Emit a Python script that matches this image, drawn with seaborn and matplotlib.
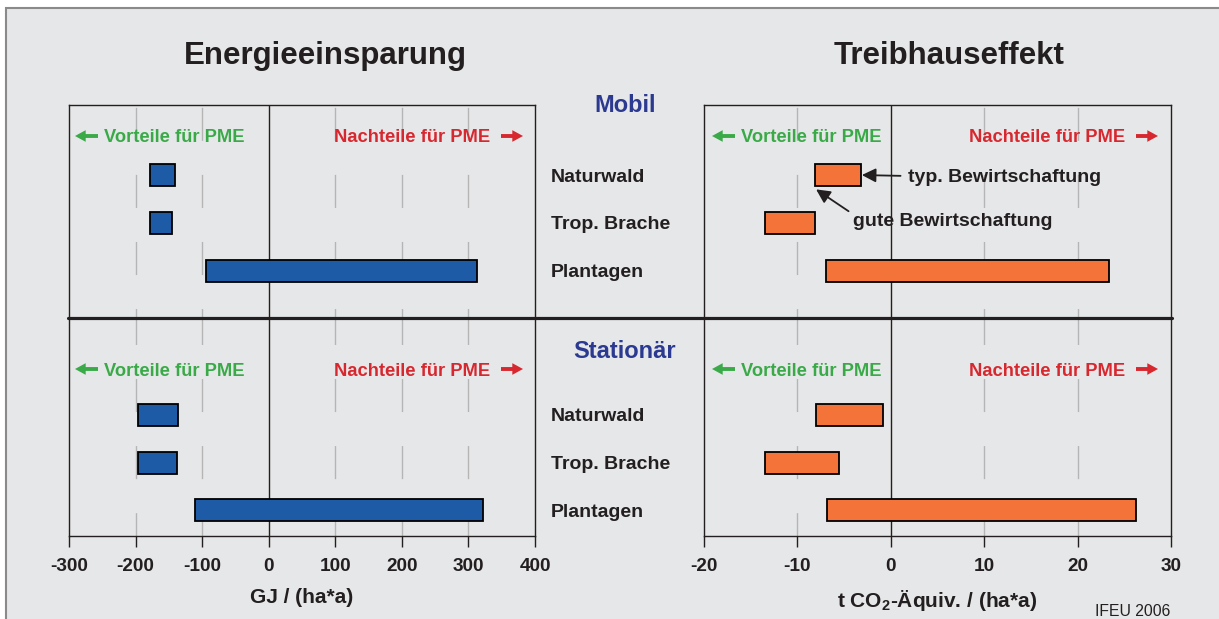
import pandas as pd
import matplotlib
matplotlib.use("Agg")
import matplotlib.pyplot as plt
import matplotlib.transforms as mtransforms
from matplotlib.patches import Rectangle, FancyArrowPatch
from matplotlib.lines import Line2D
import seaborn as sns

categories = ["Naturwald", "Trop. Brache", "Plantagen"]

# Energieeinsparung, GJ / (ha*a): start and end of each bar
energy_mobil_start = [-179, -178, -94]
energy_mobil_end = [-141, -145, 313]
energy_stat_start = [-196, -196, -111]
energy_stat_end = [-137, -138, 322]

# Treibhauseffekt, t CO2-Äquiv. / (ha*a)
ghg_mobil_start = [-8.1, -13.5, -6.9]
ghg_mobil_end = [-3.2, -8.1, 23.4]
ghg_stat_start = [-8.0, -13.5, -6.8]
ghg_stat_end = [-0.8, -5.5, 26.2]

energy_ticks = [-300, -200, -100, 0, 100, 200, 300, 400]
ghg_ticks = [-20, -10, 0, 10, 20, 30]

W, H = 1219, 619
BG = "#e6e7e8"
DARK = "#231f20"
GREEN = "#3aaa48"
RED = "#d7282f"
NAVY = "#2b3990"
BLUE = "#1d5ba6"
ORANGE = "#f47338"

sns.set_theme(style="white", rc={"axes.facecolor": BG, "figure.facecolor": "white"})
plt.rcParams["font.family"] = ["Liberation Sans", "DejaVu Sans"]
plt.rcParams["axes.unicode_minus"] = False
plt.rcParams["mathtext.fontset"] = "custom"
plt.rcParams["mathtext.rm"] = "Liberation Sans"
plt.rcParams["mathtext.bf"] = "Liberation Sans:bold"


def fx(px):
    return px / W


def fy(py):
    return 1 - py / H


fig = plt.figure(figsize=(W / 100, H / 100), dpi=100)
fig.patches.append(Rectangle((fx(6), -0.1), 2, fy(8) + 0.1, transform=fig.transFigure,
                             facecolor=BG, edgecolor="#8a8a8a", linewidth=1.5, zorder=-10))

ax_et = fig.add_axes([fx(69), fy(318), 466 / W, 213 / H])
ax_eb = fig.add_axes([fx(69), fy(536), 466 / W, 218 / H])
ax_gt = fig.add_axes([fx(704), fy(318), 467 / W, 213 / H])
ax_gb = fig.add_axes([fx(704), fy(536), 467 / W, 218 / H])


def draw_panel(ax, start, end, color, ticks, grid, ylim, top):
    df = pd.DataFrame({"cat": categories, "start": start, "end": end})
    df["length"] = df["end"] - df["start"]
    sns.barplot(data=df, x="length", y="cat", order=categories, left=df["start"].values,
                color=color, saturation=1, edgecolor="black", linewidth=1.3,
                width=0.46, errorbar=None, ax=ax, zorder=3)
    ax.set_facecolor(BG)
    ax.set_xlim(ticks[0], ticks[-1])
    ax.set_ylim(*ylim)
    ax.set_ylabel("")
    ax.set_yticks([])
    offset = 17 if top else 7
    for g in grid:
        ax.axvline(g, color="#b5b5b5", lw=1, linestyle=(offset, (23.8, 24.5)), zorder=1)
    ax.axvline(0, color=DARK, lw=1, zorder=2)
    for s in ["left", "right", "top", "bottom"]:
        ax.spines[s].set_color(DARK)
        ax.spines[s].set_linewidth(1)
    if top:
        ax.spines["bottom"].set_visible(False)
        ax.set_xticks([])
        ax.set_xlabel("")
    else:
        ax.spines["top"].set_visible(False)
        ax.set_xticks(ticks)
        ax.set_xticklabels([str(t) for t in ticks], fontweight="bold", fontsize=13.7, color=DARK)
        ax.tick_params(axis="x", direction="out", length=8, width=1, color=DARK,
                       bottom=True, pad=7.5)


draw_panel(ax_et, energy_mobil_start, energy_mobil_end, BLUE, energy_ticks,
           [-200, -100, 100, 200, 300], (2.99, -1.465), True)
draw_panel(ax_eb, energy_stat_start, energy_stat_end, BLUE, energy_ticks,
           [-200, -100, 100, 200, 300], (2.54, -2.03), False)
draw_panel(ax_gt, ghg_mobil_start, ghg_mobil_end, ORANGE, ghg_ticks,
           [-10, 10, 20], (2.99, -1.465), True)
draw_panel(ax_gb, ghg_stat_start, ghg_stat_end, ORANGE, ghg_ticks,
           [-10, 10, 20], (2.54, -2.03), False)

ax_eb.set_xlabel("GJ / (ha*a)", fontsize=15, fontweight="bold", color=DARK, labelpad=10)
ax_gb.set_xlabel(r"t CO$_\mathbf{2}$-Äquiv. / (ha*a)", fontsize=15, fontweight="bold",
                 color=DARK, labelpad=10)

# thick separator between Mobil and Stationär
fig.lines.append(Line2D([fx(68), fx(1172)], [fy(318), fy(318)], transform=fig.transFigure,
                        color=DARK, lw=2.3))

# titles
fig.text(fx(325), fy(56), "Energieeinsparung", ha="center", va="center",
         fontsize=22.5, fontweight="bold", color=DARK)
fig.text(fx(949), fy(56), "Treibhauseffekt", ha="center", va="center",
         fontsize=22.5, fontweight="bold", color=DARK)
fig.text(fx(625), fy(106), "Mobil", ha="center", va="center",
         fontsize=17, fontweight="bold", color=NAVY)
fig.text(fx(625), fy(351), "Stationär", ha="center", va="center",
         fontsize=17, fontweight="bold", color=NAVY)

# category labels in the middle column
for ax in [ax_et, ax_eb]:
    trans = mtransforms.blended_transform_factory(fig.transFigure, ax.transData)
    for i, cat in enumerate(categories):
        fig.text(fx(551), i, cat, transform=trans, ha="left", va="center_baseline",
                 fontsize=14, fontweight="bold", color=DARK)

# Vorteile / Nachteile hints
arrow_style = "simple,head_length=0.55,head_width=0.6,tail_width=0.2"
for row_y in [136, 369]:
    for x_left, x_right in [(75, 523), (712, 1158)]:
        fig.text(fx(x_left + 29), fy(row_y), "Vorteile für PME", ha="left",
                 va="center_baseline", fontsize=13.2, fontweight="bold", color=GREEN)
        fig.text(fx(x_right - 33), fy(row_y), "Nachteile für PME", ha="right",
                 va="center_baseline", fontsize=13.2, fontweight="bold", color=RED)
        fig.patches.append(FancyArrowPatch(
            (fx(x_left + 23), fy(row_y)), (fx(x_left), fy(row_y)),
            transform=fig.transFigure, arrowstyle=arrow_style, mutation_scale=14,
            color=GREEN, lw=0, shrinkA=0, shrinkB=0))
        fig.patches.append(FancyArrowPatch(
            (fx(x_right - 22), fy(row_y)), (fx(x_right), fy(row_y)),
            transform=fig.transFigure, arrowstyle=arrow_style, mutation_scale=14,
            color=RED, lw=0, shrinkA=0, shrinkB=0))

# annotations for Naturwald (Mobil, Treibhauseffekt)
ax_gt.annotate("typ. Bewirtschaftung", xy=(ghg_mobil_end[0] + 0.1, 0),
               xytext=(fx(908), fy(176)), textcoords="figure fraction",
               ha="left", va="center_baseline", fontsize=14, fontweight="bold", color=DARK,
               arrowprops=dict(arrowstyle="-|>,head_length=0.6,head_width=0.3",
                               mutation_scale=14, color=DARK, lw=1.3, shrinkA=3, shrinkB=0,
                               facecolor="#1a2a55"))
ax_gt.annotate("gute Bewirtschaftung", xy=(ghg_mobil_start[0] + 0.1, 0.3),
               xytext=(fx(853), fy(219)), textcoords="figure fraction",
               ha="left", va="center_baseline", fontsize=14, fontweight="bold", color=DARK,
               arrowprops=dict(arrowstyle="-|>,head_length=0.6,head_width=0.3",
                               mutation_scale=14, color=DARK, lw=1.3, shrinkA=1, shrinkB=0,
                               relpos=(0, 0.9)))

fig.text(fx(1170), fy(611), "IFEU 2006", ha="right", va="center", fontsize=11.3, color=DARK)

fig.savefig("out.png", dpi=100)
